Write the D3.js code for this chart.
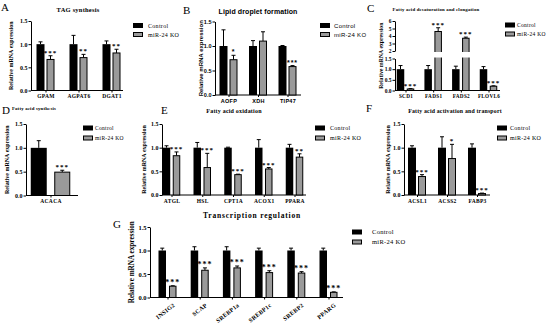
<!DOCTYPE html>
<html lang="en">
<head>
<meta charset="UTF-8">
<title>miR-24 KO lipid genes</title>
<script src="https://d3js.org/d3.v7.min.js"></script>
<style>
    body { margin: 0; background: #fff; }
    svg text { font-family: "Liberation Serif", "Times New Roman", serif; font-weight: bold; fill: #000; }
    .sans text, text.sans { font-family: "Liberation Sans", Arial, sans-serif; }
</style>
</head>
<body>
<script>
// ---- data ----
var legendLabels = ["Control", "miR-24 KO"];

var catsA = ["GPAM", "AGPAT6", "DGAT1"];
var ctrlA = [1.0, 1.0, 1.0], ctrlErrA = [0.05, 0.19, 0.07];
var koA = [0.67, 0.71, 0.81], koErrA = [0.08, 0.07, 0.08];
var sigA = ["***", "**", "**"];

var catsB = ["AOFP", "XDH", "TIP47"];
var ctrlB = [1.0, 1.0, 1.0], ctrlErrB = [0.33, 0.11, 0.01];
var koB = [0.72, 1.10, 0.58], koErrB = [0.09, 0.19, 0.02];
var sigB = ["*", "", "***"];

var catsC = ["SCD1", "FADS1", "FADS2", "FLOVL6"];
var ctrlC = [1.0, 1.0, 1.0, 1.0], ctrlErrC = [0.17, 0.17, 0.14, 0.12];
var koC = [0.07, 4.6, 3.7, 0.2], koErrC = [0.02, 0.5, 0.15, 0.02];
var sigC = ["***", "***", "***", "***"];

var catsD = ["ACACA"];
var ctrlD = [1.0], ctrlErrD = [0.15];
var koD = [0.49], koErrD = [0.04];
var sigD = ["***"];

var catsE = ["ATGL", "HSL", "CPT1A", "ACOX1", "PPARA"];
var ctrlE = [1.0, 1.0, 1.0, 1.0, 1.0], ctrlErrE = [0.04, 0.11, 0.01, 0.17, 0.07];
var koE = [0.83, 0.58, 0.43, 0.55, 0.80], koErrE = [0.08, 0.3, 0.01, 0.03, 0.07];
var sigE = ["***", "***", "***", "***", "**"];

var catsF = ["ACSL1", "ACSS2", "FABP3"];
var ctrlF = [1.0, 1.0, 1.0], ctrlErrF = [0.04, 0.23, 0.08];
var koF = [0.39, 0.77, 0.03], koErrF = [0.04, 0.3, 0.01];
var sigF = ["***", "*", "***"];

var catsG = ["INSIG2", "SCAP", "SREBP1a", "SREBP1c", "SREBP2", "PPARG"];
var ctrlG = [1.0, 1.0, 1.0, 1.0, 1.0, 1.0], ctrlErrG = [0.05, 0.08, 0.08, 0.05, 0.05, 0.05];
var koG = [0.24, 0.58, 0.63, 0.53, 0.52, 0.11], koErrG = [0.01, 0.05, 0.04, 0.04, 0.03, 0.01];
var sigG = ["***", "***", "***", "***", "***", "***"];

var lowTicks = [0, 0.5, 1.0, 1.5];
var highTicks = [2, 3, 4, 5, 6];

var width = 550, height = 328;
var koFill = '#9a9a9a';

var svg = d3.select('body').append('svg')
    .attr('width', width)
    .attr('height', height);

function panel(p) {
    var g = svg.append('g').attr('class', p.sans ? 'sans' : null);

    // y scale (optionally broken)
    var ylo = d3.scaleLinear().domain([0, 1.5]).range([p.y0, p.y1]);
    var yhi = p.broken ? d3.scaleLinear().domain([2, 6]).range([p.hy0, p.hy1]) : null;
    var y = function (v) {
        if (!p.broken || v <= 1.5) return ylo(v);
        return yhi(Math.max(v, 2));
    };

    var x = d3.scalePoint().domain(p.cats).range([p.cx0, p.cx1 == null ? p.cx0 : p.cx1]);

    // y axis
    g.append('g')
        .attr('transform', 'translate(' + p.ax + ',0)')
        .call(d3.axisLeft(ylo).tickValues(lowTicks).tickFormat(d3.format('.1f')).tickSize(2.5).tickSizeOuter(0).tickPadding(1));
    if (p.broken) {
        g.append('g')
            .attr('transform', 'translate(' + p.ax + ',0)')
            .call(d3.axisLeft(yhi).tickValues(highTicks).tickFormat(d3.format('d')).tickSize(2.5).tickSizeOuter(0).tickPadding(1));
    }
    g.selectAll('.tick text').style('font-size', (p.tickFs || 6) + 'px');

    // x axis
    var xa = g.append('g')
        .attr('transform', 'translate(0,' + p.y0 + ')')
        .call(d3.axisBottom(x).tickSize(2).tickSizeOuter(0).tickPadding(2));
    xa.select('.domain').remove();
    g.append('line')
        .attr('x1', p.ax).attr('x2', p.xEnd)
        .attr('y1', p.y0).attr('y2', p.y0)
        .attr('stroke', '#000').attr('stroke-width', 1);
    var xt = xa.selectAll('.tick text')
        .style('font-size', (p.catFs || 5.5) + 'px')
        .style('letter-spacing', '0.3px');
    if (p.rotate) {
        xt.attr('text-anchor', 'end')
            .attr('dy', '0.5em')
            .attr('transform', 'translate(3,3) rotate(-38)');
    }
    g.selectAll('.domain, .tick line').attr('stroke', '#000').attr('stroke-width', 1);

    // bars
    var bw = p.bw, gap = p.gap;
    var rows = p.cats.map(function (c, i) {
        return { c: c, ctrl: p.ctrl[i], ce: p.ctrlErr[i], ko: p.ko[i], ke: p.koErr[i], sig: p.sig[i] };
    });
    var grp = g.selectAll('.grp').data(rows).enter().append('g');

    // error whiskers (upper only) drawn first
    function whisker(sel, cxf, top, base) {
        sel.append('line')
            .attr('x1', cxf).attr('x2', cxf)
            .attr('y1', function (d) { return y(base(d)); })
            .attr('y2', function (d) { return y(top(d)); })
            .attr('stroke', '#000').attr('stroke-width', 1);
        sel.append('line')
            .attr('x1', function (d) { return cxf(d) - 2; })
            .attr('x2', function (d) { return cxf(d) + 2; })
            .attr('y1', function (d) { return y(top(d)); })
            .attr('y2', function (d) { return y(top(d)); })
            .attr('stroke', '#000').attr('stroke-width', 1);
    }
    var cC = function (d) { return x(d.c) - gap / 2 - bw / 2; };
    var cK = function (d) { return x(d.c) + gap / 2 + bw / 2; };
    whisker(grp, cC, function (d) { return d.ctrl + d.ce; }, function (d) { return d.ctrl; });
    whisker(grp, cK, function (d) { return d.ko + d.ke; }, function (d) { return d.ko; });

    grp.append('rect')
        .attr('x', function (d) { return cC(d) - bw / 2; })
        .attr('y', function (d) { return y(d.ctrl); })
        .attr('width', bw)
        .attr('height', function (d) { return y(0) - y(d.ctrl); })
        .attr('fill', '#000');
    grp.append('rect')
        .attr('x', function (d) { return cK(d) - bw / 2 + 0.5; })
        .attr('y', function (d) { return y(d.ko); })
        .attr('width', bw - 1)
        .attr('height', function (d) { return y(0) - y(d.ko); })
        .attr('fill', koFill)
        .attr('stroke', '#000')
        .attr('stroke-width', 1);
    if (p.broken) {
        // white gap across bars at the axis break
        grp.filter(function (d) { return d.ko > 1.5; }).append('rect')
            .attr('x', function (d) { return cK(d) - bw / 2 - 1; })
            .attr('y', p.hy0 + 1)
            .attr('width', bw + 2)
            .attr('height', p.y1 - p.hy0 - 2)
            .attr('fill', '#fff');
    }

    grp.append('text')
        .attr('x', cK)
        .attr('y', function (d) { return y(d.ko + d.ke) - 1; })
        .attr('text-anchor', 'middle')
        .style('font-size', (p.starFs || 7) + 'px')
        .style('letter-spacing', '1px')
        .text(function (d) { return d.sig; });

    // y label
    g.append('text')
        .attr('transform', 'translate(' + p.ylx + ',' + ((p.y0 + (p.broken ? p.hy1 : p.y1)) / 2) + ') rotate(-90)')
        .attr('text-anchor', 'middle')
        .style('font-size', (p.ylFs || 6) + 'px')
        .text('Relative mRNA expression');

    // title + letter
    g.append('text')
        .attr('x', p.tx).attr('y', p.ty)
        .attr('text-anchor', 'middle')
        .style('font-size', p.tFs + 'px')
        .style('letter-spacing', (p.tLs || 0.2) + 'px')
        .text(p.title);
    svg.append('text')
        .attr('x', p.lx).attr('y', p.ly)
        .style('font-size', '11px')
        .style('font-weight', 'normal')
        .text(p.letter);

    // legend
    var lg = g.append('g').attr('transform', 'translate(' + p.lgx + ',' + p.lgy + ')');
    legendLabels.forEach(function (t, i) {
        lg.append('rect')
            .attr('x', i ? 0.5 : 0).attr('y', i * p.lgdy - 2.5 + (i ? 0.5 : 0))
            .attr('width', i ? 9 : 10).attr('height', i ? 4 : 5)
            .attr('fill', i ? koFill : '#000')
            .attr('stroke', i ? '#000' : 'none')
            .attr('stroke-width', 1);
        lg.append('text')
            .attr('x', p.lgtx).attr('y', i * p.lgdy + 2)
            .style('font-size', (p.lgFs || 6) + 'px')
            .style('font-weight', 'normal')
            .style('letter-spacing', '0.3px')
            .text(t);
    });
}

panel({ cats: catsA, ctrl: ctrlA, ctrlErr: ctrlErrA, ko: koA, koErr: koErrA, sig: sigA,
    ax: 31, y0: 90.5, y1: 21, xEnd: 123, cx0: 45.5, cx1: 111.5, bw: 8, gap: 2,
    ylx: 13, title: 'TAG synthesis', tx: 78, ty: 12, tFs: 6.5, letter: 'A', lx: 1, ly: 11,
    lgx: 133, lgy: 25.5, lgdy: 9, lgtx: 15 });

panel({ cats: catsB, ctrl: ctrlB, ctrlErr: ctrlErrB, ko: koB, koErr: koErrB, sig: sigB, sans: true,
    ax: 215, y0: 95, y1: 21.5, xEnd: 301, cx0: 228.5, cx1: 287.5, bw: 8, gap: 2,
    ylx: 203, title: 'Lipid droplet formation', tx: 258, ty: 14, tFs: 7, tLs: 0.1, letter: 'B', lx: 183, ly: 14,
    lgx: 320, lgy: 25.5, lgdy: 9, lgtx: 14, catFs: 5.5, tickFs: 5.5, ylFs: 6 });

panel({ cats: catsC, ctrl: ctrlC, ctrlErr: ctrlErrC, ko: koC, koErr: koErrC, sig: sigC, broken: true,
    ax: 395, y0: 90.5, y1: 58.5, hy0: 51, hy1: 21, xEnd: 500, cx0: 405.5, cx1: 488.5, bw: 7.5, gap: 2.5,
    ylx: 383, title: 'Fatty acid desaturation and elongation', tx: 436, ty: 11, tFs: 4.8, letter: 'C', lx: 367, ly: 12,
    lgx: 505, lgy: 25, lgdy: 9, lgtx: 12, lgFs: 5.5, tickFs: 5.5, catFs: 5.2, ylFs: 5.8 });

panel({ cats: catsD, ctrl: ctrlD, ctrlErr: ctrlErrD, ko: koD, koErr: koErrD, sig: sigD,
    ax: 26, y0: 195.5, y1: 124, xEnd: 78, cx0: 50.5, bw: 16, gap: 7.5,
    ylx: 9, title: 'Fatty acid synthesis', tx: 34, ty: 110, tFs: 4.8, letter: 'D', lx: 2, ly: 114,
    lgx: 83, lgy: 128, lgdy: 10, lgtx: 12, lgFs: 5.5 });

panel({ cats: catsE, ctrl: ctrlE, ctrlErr: ctrlErrE, ko: koE, koErr: koErrE, sig: sigE,
    ax: 162, y0: 195, y1: 124, xEnd: 306, cx0: 171.5, cx1: 294.5, bw: 7.5, gap: 2.5,
    ylx: 146, title: 'Fatty acid oxidation', tx: 234, ty: 113, tFs: 6, letter: 'E', lx: 161, ly: 114,
    lgx: 315, lgy: 128, lgdy: 10, lgtx: 15 });

panel({ cats: catsF, ctrl: ctrlF, ctrlErr: ctrlErrF, ko: koF, koErr: koErrF, sig: sigF,
    ax: 404, y0: 195, y1: 124, xEnd: 490, cx0: 417, cx1: 477, bw: 8, gap: 2,
    ylx: 390, title: 'Fatty acid activation and transport', tx: 455, ty: 113, tFs: 5.8, letter: 'F', lx: 366, ly: 112,
    lgx: 497, lgy: 128, lgdy: 10, lgtx: 13 });

panel({ cats: catsG, ctrl: ctrlG, ctrlErr: ctrlErrG, ko: koG, koErr: koErrG, sig: sigG, rotate: true,
    ax: 150, y0: 297.5, y1: 227, xEnd: 343, cx0: 167.5, cx1: 328.5, bw: 7.5, gap: 3,
    ylx: 134, title: 'Transcription regulation', tx: 252, ty: 218, tFs: 7.5, tLs: 0.8, letter: 'G', lx: 113, ly: 228,
    lgx: 352, lgy: 232, lgdy: 10, lgtx: 20, lgFs: 6.5, catFs: 6, tickFs: 6.5, ylFs: 7.2, starFs: 8 });
</script>
</body>
</html>
